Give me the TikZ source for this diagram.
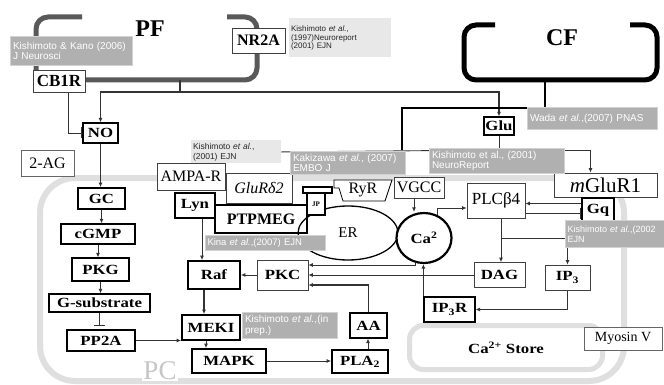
\documentclass[tikz,border=0pt]{standalone}
\usepackage{fontspec}
\setmainfont{Liberation Serif}
\setsansfont{Liberation Sans}
\newfontfamily\widefont[FakeStretch=1.2]{Liberation Serif}
\usetikzlibrary{arrows.meta,shapes.geometric,backgrounds}

\begin{document}
\begin{tikzpicture}[x=1pt,y=-1pt,
  box/.style={draw=black!75,fill=white,inner sep=0pt,line width=.7pt},
  mbox/.style={box,draw=black,line width=1.2pt},
  tbox/.style={box,draw=black,line width=1.8pt},
  bl/.style={font=\widefont\bfseries\fontsize{14}{14}\selectfont},
  rl/.style={font=\fontsize{16}{16}\selectfont},
  cite/.style={fill=gray!62,draw=gray!35,line width=1pt,text=white,inner sep=2.5pt,anchor=north west,align=left,font=\sffamily\fontsize{10}{10.5}\selectfont},
  lcite/.style={cite,fill=gray!18,draw=none,text=black!85},
  con/.style={draw=black!80,line width=.9pt},
  arr/.style={con,-{Latex[length=4.5pt,width=4pt]}},
  inh/.style={con,-{Bar[width=11pt,line width=1.4pt]}}
]
\useasboundingbox (0,0) rectangle (664,385);
\clip (0,0) rectangle (664,385);

% fibres and outside
\node[font=\bfseries\fontsize{24}{24}\selectfont] (pf) at (150,29) {PF};
\node[font=\bfseries\fontsize{24}{24}\selectfont] (cf) at (562,38) {CF};
\node[box,minimum width=52pt,minimum height=22pt,font=\bfseries\fontsize{17}{17}\selectfont] (cbr) at (59,81) {CB1R};
\node[box,minimum width=53pt,minimum height=25pt,font=\bfseries\fontsize{16}{16}\selectfont] (nrtwoa) at (258.5,40.5) {NR2A};
\node[mbox,minimum width=35pt,minimum height=20pt,bl] (no) at (100.5,133) {NO};
\node[box,draw=black!60,minimum width=53pt,minimum height=26pt,rl] (twoag) at (47.5,163) {2-AG};
\node[mbox,minimum width=30pt,minimum height=18pt,bl] (glu) at (499,126) {Glu};

% Purkinje cell
\node[fill=white,text=gray!45,inner sep=1pt,font=\fontsize{27}{27}\selectfont] (pc) at (160,371) {PC};
\node[tbox,minimum width=47pt,minimum height=21pt,bl] (gc) at (101.5,198.5) {GC};
\node[mbox,minimum width=74pt,minimum height=20pt,bl] (cgmp) at (98,234) {cGMP};
\node[mbox,minimum width=57pt,minimum height=23pt,bl] (pkg) at (100.5,269.5) {PKG};
\node[mbox,minimum width=101pt,minimum height=18pt,bl] (gsub) at (99.5,303) {G-substrate};
\node[mbox,minimum width=68pt,minimum height=21pt,bl] (pptwoa) at (101,340.5) {PP2A};
\node[box,minimum width=68pt,minimum height=27pt,rl] (ampa) at (191,176.5) {AMPA-R};
\node[box,minimum width=66pt,minimum height=30pt,font=\itshape\fontsize{16}{16}\selectfont] (glud) at (259,188) {GluRδ2};
\node[tbox,minimum width=40pt,minimum height=25pt,bl] (lyn) at (195,205.5) {Lyn};
\node[mbox,minimum width=92pt,minimum height=28pt,font=\bfseries\fontsize{16}{16}\selectfont] (ptp) at (261,219) {PTPMEG};
\node[box,minimum width=50pt,minimum height=21pt,rl] (vgcc) at (419,187.5) {VGCC};
\node[box,minimum width=58pt,minimum height=35pt,font=\fontsize{17}{17}\selectfont] (plc) at (496,200.5) {PLCβ4};
\node[box,minimum width=103pt,minimum height=24pt,font=\fontsize{21}{21}\selectfont] (mglu) at (605.5,185) {\textit{m}GluR1};
\node[tbox,minimum width=32pt,minimum height=25pt,bl] (gq) at (598,210.5) {Gq};
\node[box,minimum width=51pt,minimum height=25pt,bl] (dag) at (499.5,275) {DAG};
\node[box,minimum width=45pt,minimum height=25pt,bl] (ipthree) at (567.5,277.5) {IP\textsubscript{3}};
\node[mbox,minimum width=51pt,minimum height=25pt,bl] (ipr) at (449.5,309.5) {IP\textsubscript{3}R};
\node[box,minimum width=51pt,minimum height=30pt,bl] (pkc) at (282.5,275) {PKC};
\node[tbox,minimum width=52pt,minimum height=28pt,bl] (raf) at (214,275) {Raf};
\node[tbox,minimum width=58pt,minimum height=25pt,bl] (meki) at (211,327.5) {MEKI};
\node[tbox,minimum width=74pt,minimum height=24pt,bl] (mapk) at (229,361) {MAPK};
\node[tbox,minimum width=56pt,minimum height=23pt,bl] (pla) at (360,361.5) {PLA\textsubscript{2}};
\node[mbox,minimum width=37pt,minimum height=25pt,bl] (aa) at (368.5,325.5) {AA};
\node[draw=gray!25,line width=5pt,rounded corners=14pt,minimum width=193pt,minimum height=44pt,bl] (store) at (506,347.5) {Ca\textsuperscript{2+} Store};
\node[box,draw=black!60,minimum width=78pt,minimum height=23pt,font=\fontsize{14}{14}\selectfont] (myo) at (623,338.5) {Myosin V};

% ER, RyR, JP, Ca
\node[ellipse,draw,line width=1.3pt,minimum width=100pt,minimum height=54pt,inner sep=0pt,font=\fontsize{15}{15}\selectfont] (er) at (348,233) {ER};
\draw[fill=white,line width=.8pt] (334,180) -- (392,180) -- (385,201) -- (343,201) -- (339,188) -- (334,188) -- cycle;
\node[font=\fontsize{16}{16}\selectfont] (ryr) at (363,190) {RyR};
\node[mbox,minimum width=18pt,minimum height=22pt,font=\bfseries\fontsize{7}{7}\selectfont] (jp) at (316,204) {JP};
\draw[fill=white,line width=1.3pt] (303,187) rectangle (332,193);
\node[ellipse,draw,fill=white,line width=2.2pt,minimum width=55pt,minimum height=50pt,inner sep=0pt,bl] (ca) at (424,238) {Ca\textsuperscript{2}};

% references
\node[cite,text width=117pt,minimum height=29pt] (kkcite) at (10,36) {Kishimoto \& Kano (2006)\\J Neurosci};
\node[lcite,text width=97pt,minimum height=39pt,font=\sffamily\fontsize{8}{8.5}\selectfont] (nrcite) at (288,18) {Kishimoto \textit{et al.},\\(1997)Neuroreport\\(2001) EJN};
\node[cite,text width=125pt,minimum height=22pt] (wcite) at (527,107) {Wada \textit{et al.},(2007) PNAS};
\node[lcite,text width=85pt,minimum height=20pt,font=\sffamily\fontsize{8.5}{10}\selectfont] (ejncite) at (190,140) {Kishimoto \textit{et al.},\\(2001) EJN};
\node[cite,text width=110pt,minimum height=22pt] (kzcite) at (290,151) {Kakizawa \textit{et al.}, (2007)\\EMBO J};
\node[cite,text width=130pt,minimum height=25pt] (nrpcite) at (429,148) {Kishimoto et al., (2001)\\NeuroReport};
\node[cite,text width=116pt,minimum height=15pt,inner sep=2pt,font=\sffamily\fontsize{9.5}{10}\selectfont] (kicite) at (205,235) {Kina \textit{et al.},(2007) EJN};
\node[cite,text width=90pt,minimum height=26pt] (prcite) at (242,312) {Kishimoto \textit{et al.},(in\\prep.)};
\node[cite,text width=110pt,minimum height=27pt,inner sep=2pt,font=\sffamily\fontsize{9}{10}\selectfont] (gqcite) at (565,220) {Kishimoto \textit{et al.},(2002\\EJN};

\begin{scope}[on background layer]
\fill[white] (0,0) rectangle (664,385);
\draw[line width=6pt,draw=gray!25,rounded corners=35pt] (40,178) rectangle (624,381);
% PF / CF
\draw[line width=5pt,draw=black!65,rounded corners=12pt] (82,17) -- (36,17) -- (36,75);
\draw[line width=5pt,draw=black!65,rounded corners=12pt] (227,17) -- (257,17) -- (257,80) -- (85,80);
\draw[line width=5pt,rounded corners=12pt] (495,25) -- (464,25) -- (464,80) -- (657,80) -- (657,25) -- (630,25);
\coordinate (pfj) at (180,92);
\draw[con,line width=1.3pt] (180,80) -- (pfj);
\draw[arr,line width=1.3pt] (pfj) -| (no.north);
\draw[arr,line width=1.3pt] (pfj) -| (glu.north);
\coordinate (cfj) at (545,108);
\draw[con,draw=black,line width=1.8pt] (545,80) -- (cfj) -| (402,150);
\coordinate (gluj) at (499,150);
\draw[con] (glu.south) -- (gluj);
\draw[con] (ejncite.east) -- (gluj);
\draw[arr] (gluj) -| ([xshift=-15pt]mglu.north);
% NO / cGMP pathway
\draw[inh] ([xshift=9pt]cbr.south) |- (no.west);
\foreach \a/\b in {no/gc,gc/cgmp,cgmp/pkg,pkg/gsub}
  \draw[arr] (\a.south) -- (\a.south |- \b.north);
\draw[inh] (gsub.south) -- ([yshift=3pt]gsub.south |- pptwoa.north);
\draw[arr] (pptwoa.east) -- (pptwoa.east -| meki.west);
% kinase cascade
\draw[arr] ([xshift=7pt]lyn.south) -- ([xshift=7pt]lyn.south |- raf.north);
\draw[arr] (pkc.west) -- (raf.east);
\draw[arr,line width=2pt] ([xshift=-10pt]raf.south) -- ([xshift=-10pt]raf.south |- meki.north);
\draw[arr] ([xshift=-5pt]meki.south) -- ([xshift=-5pt]meki.south |- mapk.north);
\draw[arr] (mapk.east) -- (mapk.east -| pla.west);
\draw[arr] ([xshift=8pt]pla.north) -- ([xshift=8pt]pla.north |- aa.south);
\draw[arr,line width=1.5pt] (aa.north) |- ([yshift=-10pt]pkc.east);
\draw[arr] (dag.west) -- (dag.west -| pkc.east);
\draw[arr] (ca.250) |- ([yshift=10pt]pkc.east);
% Ca and mGluR1 signalling
\draw[arr] ([xshift=-5pt]vgcc.south) -- ([xshift=-5pt]vgcc.south |- ca.north);
\draw[arr] (ca.60) |- ([yshift=-7.5pt]plc.west);
\draw[arr] ([yshift=7pt]gq.west) -- ([yshift=7pt]gq.west -| plc.east);
\draw[inh] ([yshift=-12.5pt]plc.east) -- ([yshift=-12.5pt]plc.east -| gq.west);
\path ([xshift=5pt]plc.south) ++(0,20) coordinate (plcj);
\draw[con] ([xshift=5pt]plc.south) -- (plcj);
\draw[arr] (plcj) -- (plcj |- dag.north);
\draw[arr] (plcj) -| (ipthree.north);
\draw[arr] (ipthree.south) |- (ipr.east);
\draw[arr] (ipr.north west) -- (ipr.north west |- ca.south);
\end{scope}
\end{tikzpicture}
\end{document}
